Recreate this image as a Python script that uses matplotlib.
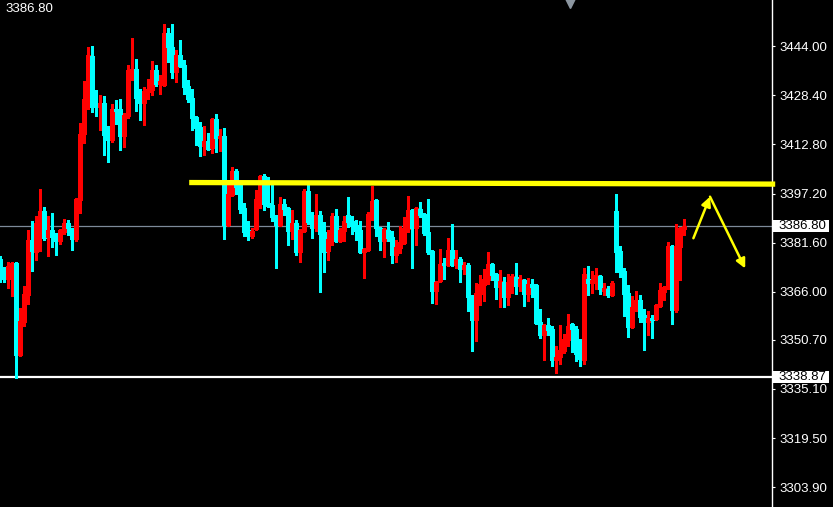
import numpy as np
import matplotlib.pyplot as plt
import matplotlib.patches as patches
import matplotlib.transforms as mtransforms

plt.rcParams['font.family'] = ['Liberation Sans', 'DejaVu Sans']

# OHLC, one entry per candle (oldest first)
opens = [
    3376.3, 3373.1, 3369.9, 3374.1, 3375.0, 3345.8, 3356.3, 3364.9, 3382.4, 3378.6,
    3387.4, 3391.6, 3383.3, 3385.5, 3383.6, 3382.0, 3384.9, 3387.8, 3385.8, 3382.7,
    3395.1, 3416.0, 3426.8, 3440.8, 3424.9, 3424.6, 3425.9, 3416.0, 3414.1, 3424.0,
    3424.0, 3415.4, 3421.8, 3436.0, 3436.7, 3427.8, 3425.9, 3429.4, 3430.0, 3436.4,
    3431.9, 3431.6, 3448.1, 3443.7, 3435.7, 3441.1, 3437.9, 3431.3, 3427.5, 3421.4,
    3418.3, 3412.2, 3413.8, 3411.6, 3420.8, 3414.8, 3415.4, 3387.1, 3396.7, 3404.3,
    3399.8, 3392.5, 3385.5, 3383.6, 3385.8, 3395.1, 3402.7, 3394.1, 3393.5, 3390.0,
    3387.1, 3393.8, 3392.5, 3385.2, 3387.8, 3378.6, 3385.2, 3397.9, 3388.4, 3386.2,
    3390.3, 3384.9, 3378.9, 3382.7, 3390.0, 3382.0, 3385.2, 3390.3, 3388.4, 3387.1,
    3385.5, 3378.6, 3379.2, 3390.3, 3395.1, 3386.2, 3382.0, 3385.5, 3383.3, 3377.6,
    3379.8, 3381.4, 3385.8, 3391.9, 3386.2, 3392.2, 3390.6, 3384.9, 3378.9, 3366.2,
    3369.3, 3375.0, 3374.4, 3379.2, 3374.4, 3376.3, 3373.1, 3374.4, 3364.6, 3356.9,
    3365.2, 3368.1, 3369.6, 3374.7, 3371.5, 3367.4, 3369.0, 3364.2, 3368.7, 3370.6,
    3367.7, 3369.6, 3365.2, 3368.4, 3368.1, 3356.3, 3352.2, 3355.4, 3354.1, 3344.2,
    3345.2, 3347.1, 3350.6, 3355.7, 3354.1, 3347.4, 3344.2, 3370.2, 3368.7, 3369.3,
    3370.9, 3366.2, 3366.8, 3364.9, 3391.6, 3378.9, 3372.5, 3365.5, 3354.7, 3361.1,
    3363.3, 3358.5, 3356.3, 3357.6, 3357.3, 3361.4, 3365.8, 3367.1, 3380.5, 3360.1,
    3380.1, 3385.8,
]
highs = [
    3377.3, 3373.8, 3375.4, 3375.4, 3375.4, 3360.7, 3367.7, 3385.5, 3388.4, 3390.0,
    3398.6, 3392.9, 3390.0, 3390.9, 3384.6, 3385.8, 3389.0, 3388.7, 3386.2, 3395.7,
    3419.5, 3432.9, 3443.7, 3444.0, 3430.0, 3428.4, 3428.1, 3418.6, 3425.6, 3426.8,
    3427.1, 3422.7, 3437.9, 3446.5, 3439.9, 3430.3, 3431.0, 3433.5, 3439.2, 3437.9,
    3434.8, 3451.0, 3449.7, 3451.0, 3442.7, 3445.9, 3439.5, 3433.2, 3430.3, 3421.8,
    3419.9, 3418.6, 3416.4, 3421.1, 3422.4, 3417.6, 3417.9, 3399.8, 3405.5, 3404.9,
    3400.2, 3394.1, 3388.4, 3386.2, 3398.2, 3403.0, 3403.3, 3402.4, 3399.8, 3390.3,
    3396.0, 3395.4, 3392.9, 3391.9, 3388.7, 3385.8, 3398.6, 3399.8, 3391.3, 3397.0,
    3391.6, 3388.1, 3385.5, 3390.9, 3392.2, 3386.2, 3390.0, 3396.0, 3390.0, 3388.7,
    3388.4, 3379.8, 3391.3, 3399.5, 3395.4, 3386.5, 3386.2, 3388.1, 3385.2, 3382.4,
    3386.8, 3389.7, 3396.3, 3392.2, 3392.9, 3394.4, 3390.9, 3395.4, 3379.2, 3369.3,
    3379.5, 3376.6, 3383.0, 3387.4, 3379.2, 3377.0, 3375.4, 3375.0, 3364.9, 3368.7,
    3371.2, 3373.1, 3378.6, 3375.0, 3371.9, 3372.8, 3370.6, 3371.5, 3371.5, 3375.0,
    3371.2, 3369.9, 3370.3, 3369.9, 3368.4, 3360.4, 3355.7, 3357.6, 3355.0, 3348.7,
    3355.4, 3352.5, 3358.9, 3356.0, 3355.0, 3350.9, 3373.5, 3374.1, 3372.5, 3373.5,
    3371.2, 3368.7, 3367.7, 3369.3, 3397.0, 3380.5, 3373.5, 3368.1, 3364.6, 3366.2,
    3364.9, 3360.4, 3359.8, 3358.5, 3362.0, 3368.7, 3367.7, 3381.7, 3380.8, 3387.4,
    3386.5, 3389.0,
]
lows = [
    3369.0, 3369.0, 3367.1, 3364.6, 3338.5, 3345.5, 3355.0, 3362.0, 3372.5, 3376.0,
    3378.9, 3382.4, 3377.3, 3380.1, 3377.6, 3381.1, 3384.3, 3383.9, 3379.2, 3382.0,
    3390.9, 3413.2, 3424.0, 3423.0, 3421.8, 3417.3, 3409.4, 3407.1, 3413.5, 3419.2,
    3410.9, 3411.9, 3421.1, 3433.2, 3423.3, 3420.5, 3418.9, 3427.1, 3428.4, 3431.3,
    3428.7, 3431.3, 3438.9, 3433.8, 3432.6, 3437.3, 3428.7, 3426.2, 3417.3, 3412.5,
    3409.0, 3409.4, 3410.9, 3410.0, 3410.3, 3410.6, 3382.7, 3386.8, 3396.3, 3397.0,
    3390.9, 3383.6, 3382.4, 3383.0, 3385.5, 3392.5, 3391.9, 3392.9, 3388.4, 3373.5,
    3386.8, 3390.3, 3380.8, 3382.7, 3377.6, 3375.4, 3384.9, 3387.4, 3383.0, 3385.2,
    3365.8, 3372.2, 3376.0, 3380.8, 3381.7, 3381.7, 3382.0, 3386.5, 3384.3, 3382.4,
    3378.2, 3370.3, 3378.9, 3388.7, 3383.6, 3379.2, 3377.0, 3382.0, 3375.0, 3375.4,
    3378.2, 3381.1, 3384.9, 3373.5, 3380.8, 3389.7, 3383.9, 3377.9, 3362.4, 3362.0,
    3369.0, 3369.9, 3374.1, 3374.1, 3373.5, 3369.0, 3371.5, 3359.8, 3347.1, 3350.3,
    3361.7, 3363.0, 3368.4, 3369.6, 3363.6, 3361.1, 3361.1, 3361.7, 3365.5, 3365.2,
    3366.2, 3361.4, 3363.0, 3364.2, 3355.7, 3351.2, 3344.2, 3352.2, 3342.3, 3340.1,
    3343.0, 3346.5, 3348.7, 3346.8, 3343.9, 3342.3, 3343.0, 3364.9, 3365.5, 3366.8,
    3365.2, 3364.9, 3364.2, 3364.6, 3372.2, 3370.6, 3358.2, 3351.5, 3354.4, 3359.8,
    3356.3, 3347.4, 3352.2, 3351.2, 3356.9, 3361.1, 3363.3, 3366.8, 3355.7, 3359.5,
    3369.6, 3383.9,
]
closes = [
    3371.5, 3370.2, 3374.1, 3375.0, 3345.8, 3356.6, 3365.2, 3382.4, 3378.9, 3387.8,
    3391.6, 3383.0, 3385.5, 3383.3, 3382.0, 3385.5, 3387.8, 3386.2, 3382.7, 3395.4,
    3416.0, 3427.1, 3441.1, 3424.6, 3424.6, 3425.9, 3415.7, 3414.1, 3424.0, 3423.3,
    3415.4, 3422.1, 3436.4, 3436.7, 3427.5, 3425.9, 3429.7, 3430.3, 3436.4, 3431.9,
    3432.9, 3448.1, 3443.7, 3435.7, 3441.1, 3437.6, 3431.0, 3427.1, 3421.1, 3417.9,
    3412.2, 3413.8, 3411.3, 3420.8, 3414.8, 3415.4, 3387.1, 3397.0, 3404.3, 3399.2,
    3392.2, 3384.9, 3383.6, 3385.2, 3395.4, 3402.7, 3393.8, 3393.2, 3389.7, 3387.1,
    3393.8, 3392.2, 3385.2, 3387.8, 3378.6, 3385.5, 3397.9, 3388.1, 3386.2, 3390.3,
    3384.3, 3378.6, 3382.7, 3390.0, 3382.0, 3385.5, 3388.4, 3388.1, 3386.8, 3385.2,
    3378.6, 3379.5, 3390.6, 3394.7, 3386.2, 3382.0, 3385.8, 3383.0, 3377.6, 3380.1,
    3381.7, 3386.2, 3391.9, 3386.2, 3392.5, 3390.3, 3384.6, 3378.6, 3366.2, 3369.0,
    3374.7, 3374.4, 3379.2, 3374.4, 3376.3, 3373.1, 3374.4, 3364.2, 3356.9, 3365.5,
    3368.4, 3369.9, 3374.7, 3371.2, 3367.4, 3369.3, 3364.2, 3369.0, 3370.9, 3367.7,
    3369.9, 3365.2, 3368.4, 3367.4, 3356.0, 3352.2, 3355.4, 3353.8, 3344.2, 3345.2,
    3347.4, 3350.9, 3355.0, 3354.1, 3346.1, 3344.6, 3371.5, 3368.7, 3369.6, 3371.2,
    3366.8, 3367.1, 3364.9, 3368.7, 3378.6, 3372.2, 3365.2, 3354.7, 3361.1, 3363.3,
    3357.9, 3356.3, 3357.6, 3356.9, 3361.7, 3366.5, 3367.4, 3380.5, 3360.1, 3380.5,
    3386.2, 3386.8,
]

price_ticks = [3444.00, 3428.40, 3412.80, 3397.20, 3381.60,
               3366.00, 3350.70, 3335.10, 3319.50, 3303.90]
last_price = 3386.80
low_level = 3338.87
resistance = 3400.4

o = np.array(opens)
h = np.array(highs)
l = np.array(lows)
c = np.array(closes)
x = np.arange(len(c))
cols = np.where(c >= o, '#ff0000', '#00ffff')

fig = plt.figure(figsize=(8.33, 5.07), dpi=100, facecolor='black')
ax = fig.add_axes([0, 0, 772 / 833, 1])
ax.set_facecolor('black')

# candles: 1px wicks, 3px bodies
ax.vlines(x, l, h, colors=cols, linewidth=0.75, antialiased=False, zorder=3)
ax.vlines(x, np.minimum(o, c), np.minimum(o, c) + np.maximum(np.abs(c - o), 0.35),
          colors=cols, linewidth=2.2, antialiased=False, zorder=4)

ax.set_xlim(-0.1, 192.9)
ax.set_ylim(3297.6, 3458.7)

# levels
ax.axhline(last_price, color='#7d8a99', lw=0.9, zorder=2)
ax.axhline(low_level, color='white', lw=1.6, zorder=2)
ax.plot([47.2, 193.7], [resistance + 0.3, resistance - 0.2], color='#ffff00',
        lw=3.8, solid_capstyle='butt', clip_on=False, zorder=6)

# hand drawn arrows
ax.annotate('', xy=(177.4, 3396.2), xytext=(173.25, 3383.0),
            arrowprops=dict(arrowstyle='-|>', color='#ffff00', lw=1.8,
                            mutation_scale=14, shrinkA=0, shrinkB=0), zorder=7)
ax.annotate('', xy=(186.2, 3373.4), xytext=(177.4, 3396.2),
            arrowprops=dict(arrowstyle='-|>', color='#ffff00', lw=1.8,
                            mutation_scale=14, shrinkA=0, shrinkB=0), zorder=7)

# price scale on the right
ax.yaxis.tick_right()
ax.set_yticks(price_ticks)
ax.set_yticklabels([f'{t:.2f}' for t in price_ticks])
ax.tick_params(axis='y', colors='white', length=2.5, width=0.8, labelsize=9.5, pad=3)
ax.set_xticks([])
for s in ['top', 'bottom', 'left']:
    ax.spines[s].set_visible(False)
ax.spines['right'].set_color('white')
ax.spines['right'].set_linewidth(1)

trans = mtransforms.blended_transform_factory(ax.transAxes, ax.transData)
for val in [last_price, low_level]:
    ax.add_patch(patches.Rectangle((773 / 772, val - 1.9), 56 / 772, 3.8,
                                   transform=trans, facecolor='white',
                                   edgecolor='none', clip_on=False, zorder=10))
    ax.text(778 / 772, val, f'{val:.2f}', transform=trans, ha='left', va='center',
            color='black', fontsize=9.5, clip_on=False, zorder=11)

# little marker at top and the price readout in the corner
ax.plot([570 / 772], [1.0], marker='v', ms=11, color='#8c96a0',
        transform=ax.transAxes, clip_on=False, zorder=8)
fig.text(5 / 833, 1 - 9.5 / 507, f'{last_price:.2f}', color='white',
         fontsize=9.5, va='center', ha='left')

plt.savefig('out.png', dpi=100, facecolor='black')
